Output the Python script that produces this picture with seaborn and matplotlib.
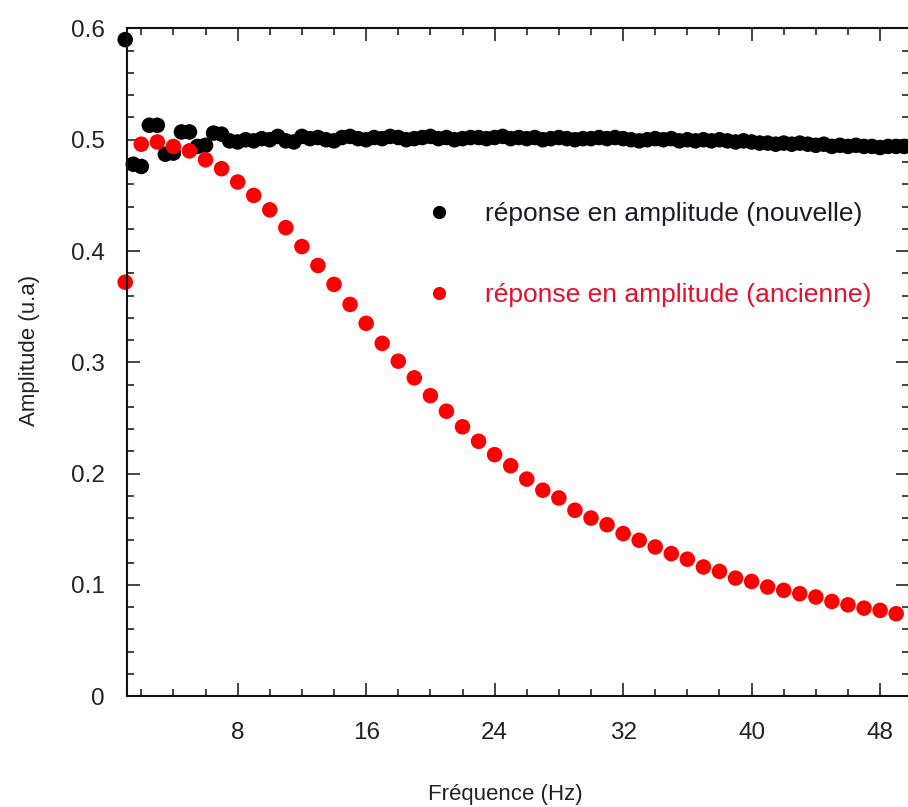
import numpy as np
import pandas as pd
import matplotlib
matplotlib.use('Agg')
import matplotlib.pyplot as plt
from matplotlib.ticker import MultipleLocator, FuncFormatter
import seaborn as sns

# Fréquences (Hz) : nouvelle mesure tous les 0.5 Hz, ancienne tous les 1 Hz
freq_nouvelle = np.arange(1.0, 50.0, 0.5)
amp_nouvelle = [
    0.590, 0.478, 0.476, 0.513, 0.513, 0.487, 0.488, 0.507, 0.507, 0.494,
    0.495, 0.506, 0.505, 0.499, 0.498, 0.500, 0.499, 0.501, 0.500, 0.503,
    0.499, 0.498, 0.503, 0.501, 0.502, 0.500, 0.499, 0.502, 0.503, 0.501,
    0.500, 0.502, 0.501, 0.503, 0.502, 0.500, 0.501, 0.502, 0.503, 0.501,
    0.502, 0.500, 0.501, 0.502, 0.502, 0.501, 0.502, 0.503, 0.501, 0.502,
    0.501, 0.502, 0.500, 0.501, 0.502, 0.501, 0.500, 0.501, 0.501, 0.502,
    0.501, 0.502, 0.501, 0.500, 0.499, 0.500, 0.501, 0.500, 0.501, 0.499,
    0.500, 0.499, 0.500, 0.499, 0.500, 0.499, 0.498, 0.499, 0.498, 0.497,
    0.497, 0.496, 0.497, 0.496, 0.497, 0.496, 0.495, 0.496, 0.494, 0.495,
    0.494, 0.495, 0.494, 0.494, 0.493, 0.494, 0.494, 0.494,
]

freq_ancienne = np.arange(1, 50, 1)
amp_ancienne = [
    0.372, 0.496, 0.498, 0.494, 0.490, 0.482, 0.474, 0.462, 0.450, 0.437,
    0.421, 0.404, 0.387, 0.370, 0.352, 0.335, 0.317, 0.301, 0.286, 0.270,
    0.256, 0.242, 0.229, 0.217, 0.207, 0.195, 0.185, 0.178, 0.167, 0.160,
    0.154, 0.146, 0.140, 0.134, 0.128, 0.123, 0.116, 0.112, 0.106, 0.103,
    0.098, 0.095, 0.092, 0.089, 0.085, 0.082, 0.079, 0.077, 0.074,
]

label_nouvelle = 'réponse en amplitude (nouvelle)'
label_ancienne = 'réponse en amplitude (ancienne)'

sns.set_style('ticks')
plt.rcParams['font.family'] = ['Liberation Sans', 'DejaVu Sans']

df = pd.concat([
    pd.DataFrame({'freq': freq_nouvelle, 'amp': amp_nouvelle, 'serie': label_nouvelle}),
    pd.DataFrame({'freq': freq_ancienne, 'amp': amp_ancienne, 'serie': label_ancienne}),
], ignore_index=True)

fig = plt.figure(figsize=(9.08, 8.07), dpi=100)
ax = fig.add_axes([0.1395, 0.1375, 0.8616, 0.8272])

sns.scatterplot(data=df, x='freq', y='amp', hue='serie',
                palette={label_nouvelle: 'black', label_ancienne: '#ff0000'},
                s=125, marker='o', edgecolor='none', linewidth=0,
                clip_on=False, ax=ax)

ax.set_xlim(1.09, 49.8)
ax.set_ylim(0, 0.6)
ax.xaxis.set_major_locator(MultipleLocator(8))
ax.xaxis.set_minor_locator(MultipleLocator(2))
ax.yaxis.set_major_locator(MultipleLocator(0.1))
ax.yaxis.set_minor_locator(MultipleLocator(0.02))
ax.yaxis.set_major_formatter(FuncFormatter(lambda v, p: '0' if abs(v) < 1e-9 else f'{v:.1f}'))

ax.tick_params(which='both', direction='in', top=True, right=True,
               width=1.1, color='#111111', labelcolor='#222222')
ax.tick_params(which='major', length=9.5)
ax.tick_params(which='minor', length=5)
ax.tick_params(axis='x', which='major', pad=19, labelsize=17.5)
ax.tick_params(axis='y', which='major', pad=16, labelsize=17.5)

for sp in ax.spines.values():
    sp.set_visible(True)
    sp.set_linewidth(1.5)
    sp.set_color('#111111')

ax.set_xlabel('Fréquence (Hz)', fontsize=16, color='#222222')
ax.set_ylabel('Amplitude (u.a)', fontsize=16, color='#222222')
ax.xaxis.set_label_coords(0.484, -0.132)
ax.yaxis.set_label_coords(-0.111, 0.518)

sns.move_legend(ax, 'upper left', bbox_to_anchor=(0.365, 0.740), title=None,
                frameon=False, fontsize=19, borderpad=0, borderaxespad=0,
                handletextpad=0.75, labelspacing=2.17, markerscale=0.85,
                labelcolor=['#1c1c28', '#e3102e'])

fig.savefig('out.png', dpi=100, facecolor='white')
